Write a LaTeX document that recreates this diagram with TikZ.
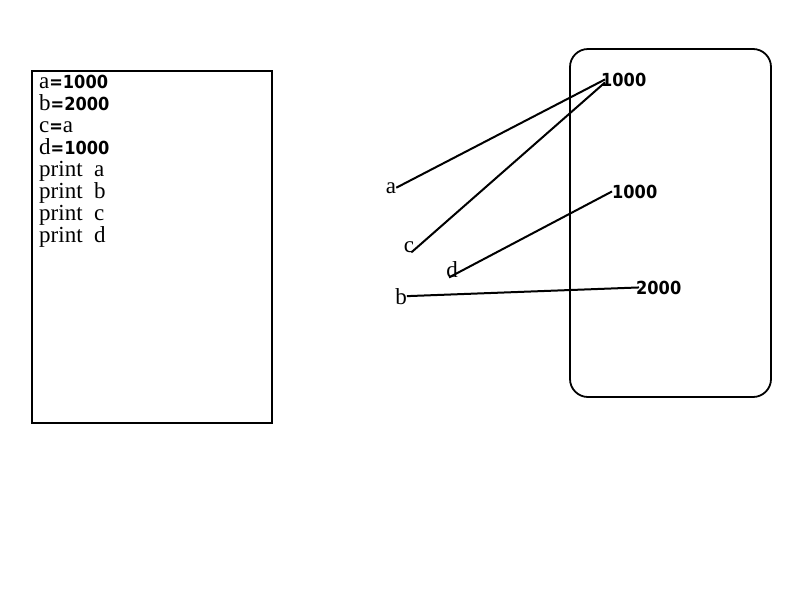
\documentclass[tikz,border=0pt]{standalone}
\usepackage{fontspec}
\setmainfont{Liberation Serif}
\newfontfamily\digfont{DejaVu Sans Condensed}
\newcommand{\dg}[1]{{\digfont\bfseries\fontsize{18}{22}\selectfont #1}}
\usetikzlibrary{positioning}

\begin{document}
\begin{tikzpicture}[x=1pt,y=-1pt,font=\fontsize{23}{22}\selectfont,
  var/.style={inner sep=0pt,anchor=base},
  val/.style={inner sep=0pt,anchor=base west,font=\fontsize{18}{20}\digfont\bfseries},
  link/.style={draw,line width=2pt}]
  \useasboundingbox (0,0) rectangle (800,600);
  % program
  \draw[line width=1.8pt] (32,71) rectangle (272,423);
  \node[inner sep=0pt,anchor=north west,align=left] (code) at (39,75)
    {a\dg{=1000}\\ b\dg{=2000}\\ c\dg{=}a\\ d\dg{=1000}\\
     print\ \ a\\ print\ \ b\\ print\ \ c\\ print\ \ d};
  % memory
  \draw[line width=1.8pt,rounded corners=18pt] (570,49) rectangle (771,397);
  \node[val] (m1) at (601,86) {1000};
  \node[val] (m2) at (612,198) {1000};
  \node[val] (m3) at (636,294) {2000};
  % names
  \node[var] (a) at (391,193) {a};
  \node[var] (c) at (409,252) {c};
  \node[var] (d) at (452,277) {d};
  \node[var] (b) at (401,304) {b};
  \path[link] (a.east) -- ([xshift=4pt]m1.west);
  \path[link] ([xshift=-3pt]c.south east) -- ([shift={(4pt,-3pt)}]m1.west);
  \path[link] ([xshift=-3pt]d.south) -- (m2.west);
  \path[link] (b.east) -- ([xshift=3pt]m3.west);
\end{tikzpicture}
\end{document}
